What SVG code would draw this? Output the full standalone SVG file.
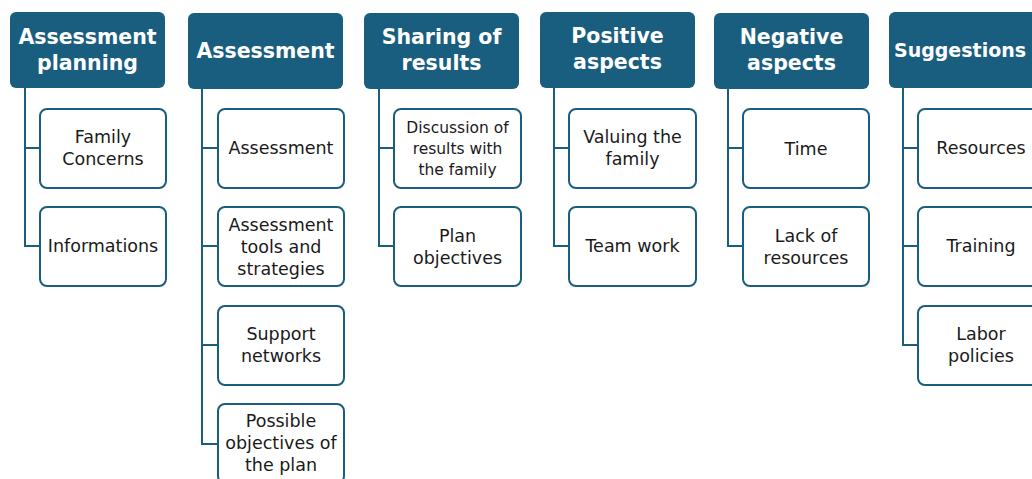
<svg xmlns="http://www.w3.org/2000/svg" width="1032" height="479" viewBox="0 0 1032 479">
<style>
.h{fill:#1a5e7f;}
.c{fill:#fff;stroke:#1a5e7f;stroke-width:2;}
.ht{font-family:"DejaVu Sans",sans-serif;font-weight:bold;font-size:20.5px;fill:#fff;text-anchor:middle;}
.ct{font-family:"DejaVu Sans",sans-serif;font-size:17.5px;fill:#1a1a1a;text-anchor:middle;}
.cs{font-size:15.5px;}
.conn{stroke:#1a5e7f;stroke-width:2;fill:none;}
</style>
<rect width="1032" height="479" fill="#fff"/>
<g id="connectors" class="conn">
<path d="M25 88V246H40M25 148H40"/>
<path d="M202 89V444H218M202 148H218M202 246H218M202 345H218"/>
<path d="M379 89V246H394M379 148H394"/>
<path d="M554 88V246H569M554 148H569"/>
<path d="M728 89V246H743M728 148H743"/>
<path d="M903 88V345H918M903 148H918M903 246H918"/>
</g>
<g id="h1"><rect class="h" x="10" y="12" width="155" height="76" rx="6"/><text class="ht" x="87.5" y="44">Assessment</text><text class="ht" x="87.5" y="70">planning</text></g>
<g id="h2"><rect class="h" x="188" y="13" width="155" height="76" rx="6"/><text class="ht" x="265.5" y="58">Assessment</text></g>
<g id="h3"><rect class="h" x="364" y="13" width="155" height="76" rx="6"/><text class="ht" x="441.5" y="44">Sharing of</text><text class="ht" x="441.5" y="70">results</text></g>
<g id="h4"><rect class="h" x="540" y="12" width="155" height="76" rx="6"/><text class="ht" x="617.5" y="43">Positive</text><text class="ht" x="617.5" y="69">aspects</text></g>
<g id="h5"><rect class="h" x="714" y="13" width="155" height="76" rx="6"/><text class="ht" x="791.5" y="44">Negative</text><text class="ht" x="791.5" y="70">aspects</text></g>
<g id="h6"><rect class="h" x="889" y="12" width="155" height="76" rx="6"/><text class="ht" x="960" y="57" style="font-size:19px">Suggestions</text></g>

<g id="c1a"><rect class="c" x="40" y="109" width="126" height="79" rx="7"/><text class="ct" x="103" y="143">Family</text><text class="ct" x="103" y="165">Concerns</text></g>
<g id="c1b"><rect class="c" x="40" y="207" width="126" height="79" rx="7"/><text class="ct" x="103" y="252">Informations</text></g>

<g id="c2a"><rect class="c" x="218" y="109" width="126" height="79" rx="7"/><text class="ct" x="281" y="154">Assessment</text></g>
<g id="c2b"><rect class="c" x="218" y="207" width="126" height="79" rx="7"/><text class="ct" x="281" y="231">Assessment</text><text class="ct" x="281" y="253">tools and</text><text class="ct" x="281" y="275">strategies</text></g>
<g id="c2c"><rect class="c" x="218" y="306" width="126" height="79" rx="7"/><text class="ct" x="281" y="340">Support</text><text class="ct" x="281" y="362">networks</text></g>
<g id="c2d"><rect class="c" x="218" y="404" width="126" height="79" rx="7"/><text class="ct" x="281" y="427">Possible</text><text class="ct" x="281" y="449">objectives of</text><text class="ct" x="281" y="471">the plan</text></g>

<g id="c3a"><rect class="c" x="394" y="109" width="127" height="79" rx="7"/><text class="ct cs" x="457.5" y="133">Discussion of</text><text class="ct cs" x="457.5" y="154">results with</text><text class="ct cs" x="457.5" y="175">the family</text></g>
<g id="c3b"><rect class="c" x="394" y="207" width="127" height="79" rx="7"/><text class="ct" x="457.5" y="242">Plan</text><text class="ct" x="457.5" y="264">objectives</text></g>

<g id="c4a"><rect class="c" x="569" y="109" width="127" height="79" rx="7"/><text class="ct" x="632.5" y="143">Valuing the</text><text class="ct" x="632.5" y="165">family</text></g>
<g id="c4b"><rect class="c" x="569" y="207" width="127" height="79" rx="7"/><text class="ct" x="632.5" y="252">Team work</text></g>

<g id="c5a"><rect class="c" x="743" y="109" width="126" height="79" rx="7"/><text class="ct" x="806" y="155">Time</text></g>
<g id="c5b"><rect class="c" x="743" y="207" width="126" height="79" rx="7"/><text class="ct" x="806" y="242">Lack of</text><text class="ct" x="806" y="264">resources</text></g>

<g id="c6a"><rect class="c" x="918" y="109" width="126" height="79" rx="7"/><text class="ct" x="981" y="154">Resources</text></g>
<g id="c6b"><rect class="c" x="918" y="207" width="126" height="79" rx="7"/><text class="ct" x="981" y="252">Training</text></g>
<g id="c6c"><rect class="c" x="918" y="306" width="126" height="79" rx="7"/><text class="ct" x="981" y="340">Labor</text><text class="ct" x="981" y="362">policies</text></g>
</svg>
